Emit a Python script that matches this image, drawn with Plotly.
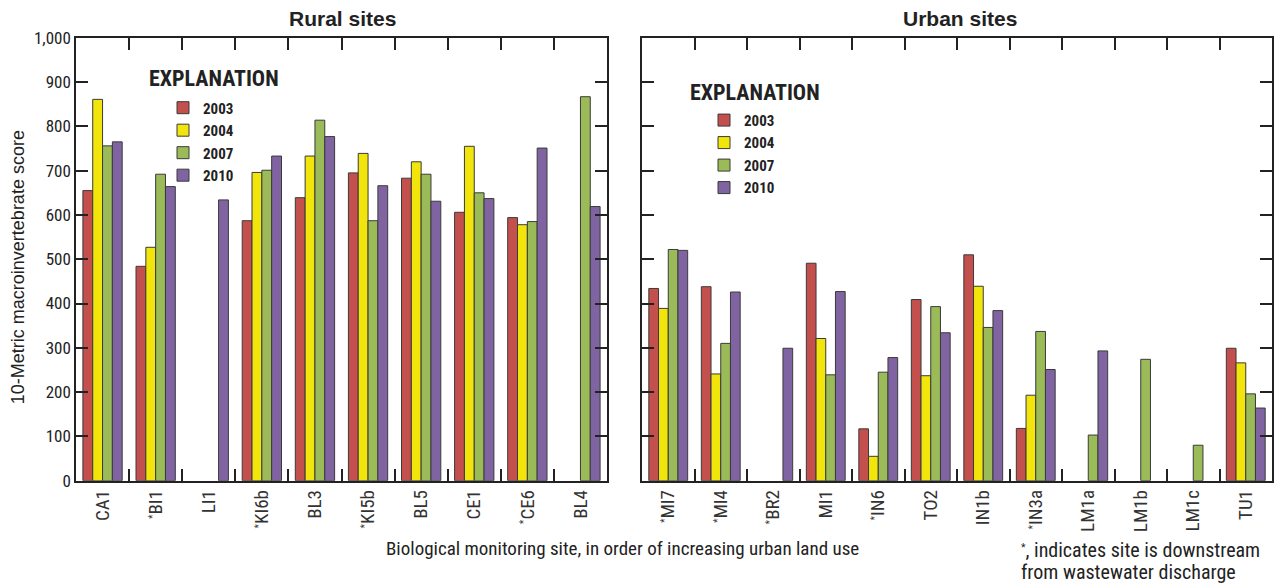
import plotly.graph_objects as go

years = ["2003", "2004", "2007", "2010"]
colors = ["#C4504D", "#F2E50C", "#9BBB59", "#8064A2"]

rural_sites = ["CA1", "BI1", "LI1", "KI6b", "BL3", "KI5b", "BL5", "CE1", "CE6", "BL4"]
rural_downstream = [False, True, False, True, False, True, False, False, True, False]
rural_2003 = [655, 484, None, 587, 639, 695, 683, 606, 594, None]
rural_2004 = [861, 527, None, 696, 733, 739, 720, 755, 578, None]
rural_2007 = [756, 692, None, 701, 814, 587, 692, 650, 585, 867]
rural_2010 = [765, 664, 634, 733, 777, 666, 631, 637, 751, 619]

urban_sites = ["MI7", "MI4", "BR2", "MI1", "IN6", "TO2", "IN1b", "IN3a", "LM1a", "LM1b", "LM1c", "TU1"]
urban_downstream = [True, True, True, False, True, False, False, True, False, False, False, False]
urban_2003 = [434, 438, None, 491, 117, 409, 510, 118, None, None, None, 299]
urban_2004 = [389, 241, None, 321, 55, 237, 439, 193, None, None, None, 266]
urban_2007 = [522, 310, None, 239, 245, 393, 346, 337, 103, 274, 80, 196]
urban_2010 = [520, 426, 299, 427, 278, 334, 384, 251, 293, None, None, 164]

rural_series = [rural_2003, rural_2004, rural_2007, rural_2010]
urban_series = [urban_2003, urban_2004, urban_2007, urban_2010]

COND = "Liberation Sans Narrow, Roboto Condensed, Arial Narrow, Liberation Sans, sans-serif"
REG = "Liberation Sans, Arial, sans-serif"
INK = "#222"
STAR = "<span style='font-size:15px'><sup>*</sup></span>"

def ticktext(sites, flags):
    return [(STAR + s) if f else s for s, f in zip(sites, flags)]

fig = go.Figure()
for yr, col, vals in zip(years, colors, rural_series):
    fig.add_trace(go.Bar(x=rural_sites, y=vals, name=yr,
                         marker=dict(color=col, line=dict(color="#3a3a3a", width=1)),
                         xaxis="x", yaxis="y", legend="legend"))
for yr, col, vals in zip(years, colors, urban_series):
    fig.add_trace(go.Bar(x=urban_sites, y=vals, name=yr,
                         marker=dict(color=col, line=dict(color="#3a3a3a", width=1)),
                         xaxis="x2", yaxis="y2", legend="legend2"))

W, H = 1281, 586
def px(x): return x / W
def py(y): return 1 - (y - 8) / 570.0

axis_common = dict(showline=True, linecolor=INK, linewidth=1.5, mirror="allticks",
                   ticks="inside", ticklen=12, tickwidth=1.5, tickcolor=INK,
                   showgrid=False, zeroline=False)

xcommon = dict(axis_common, type="category", tickson="boundaries", tickangle=-90,
               tickfont=dict(family=COND, size=19, color="#333"))

legend_font = dict(family=COND, size=15, color=INK, weight="bold")

fig.update_layout(
    width=W, height=H,
    margin=dict(l=0, r=0, t=0, b=0),
    paper_bgcolor="white", plot_bgcolor="white",
    barmode="group", bargap=0.26, bargroupgap=0,
    xaxis=dict(xcommon, domain=[px(76), px(607)], anchor="y",
               tickmode="array", tickvals=rural_sites,
               ticktext=ticktext(rural_sites, rural_downstream)),
    xaxis2=dict(xcommon, domain=[px(642), px(1272)], anchor="y2",
                tickmode="array", tickvals=urban_sites,
                ticktext=ticktext(urban_sites, urban_downstream)),
    yaxis=dict(axis_common, domain=[py(482), py(36)], range=[0, 1000], dtick=100,
               tickformat=",", anchor="x",
               tickfont=dict(family=COND, size=17, color=INK)),
    yaxis2=dict(axis_common, domain=[py(482), py(36)], range=[0, 1000], dtick=100,
                anchor="x2", showticklabels=False),
    legend=dict(x=px(163), y=py(90), xanchor="left", yanchor="top",
                bgcolor="rgba(0,0,0,0)", font=legend_font, traceorder="normal",
                tracegroupgap=0, itemclick=False),
    legend2=dict(x=px(704), y=py(102.5), xanchor="left", yanchor="top",
                 bgcolor="rgba(0,0,0,0)", font=legend_font, traceorder="normal",
                 tracegroupgap=0, itemclick=False),
    showlegend=True,
)

annotations = [
    dict(text="<b>Rural sites</b>", x=px(342), y=py(17), font=dict(family=REG, size=21, color=INK)),
    dict(text="<b>Urban sites</b>", x=px(960), y=py(17), font=dict(family=REG, size=21, color=INK)),
    dict(text="<b>EXPLANATION</b>", x=px(147), y=py(77), xanchor="left",
         font=dict(family=COND, size=22, color=INK)),
    dict(text="<b>EXPLANATION</b>", x=px(688), y=py(91), xanchor="left",
         font=dict(family=COND, size=22, color=INK)),
    dict(text="10-Metric macroinvertebrate score", x=px(18), y=py(267), textangle=-90,
         font=dict(family=REG, size=18, color=INK)),
    dict(text="Biological monitoring site, in order of increasing urban land use",
         x=px(622), y=py(550), font=dict(family=COND, size=19, color=INK)),
    dict(text=STAR + ", indicates site is downstream", x=px(1019), y=py(552),
         xanchor="left", font=dict(family=COND, size=20, color=INK)),
    dict(text="from wastewater discharge", x=px(1019), y=py(574),
         xanchor="left", font=dict(family=COND, size=20, color=INK)),
]
for a in annotations:
    a.update(xref="paper", yref="paper", showarrow=False, yanchor="middle",
             xanchor=a.get("xanchor", "center"))
fig.update_layout(annotations=annotations)

fig.write_html("out.html")
